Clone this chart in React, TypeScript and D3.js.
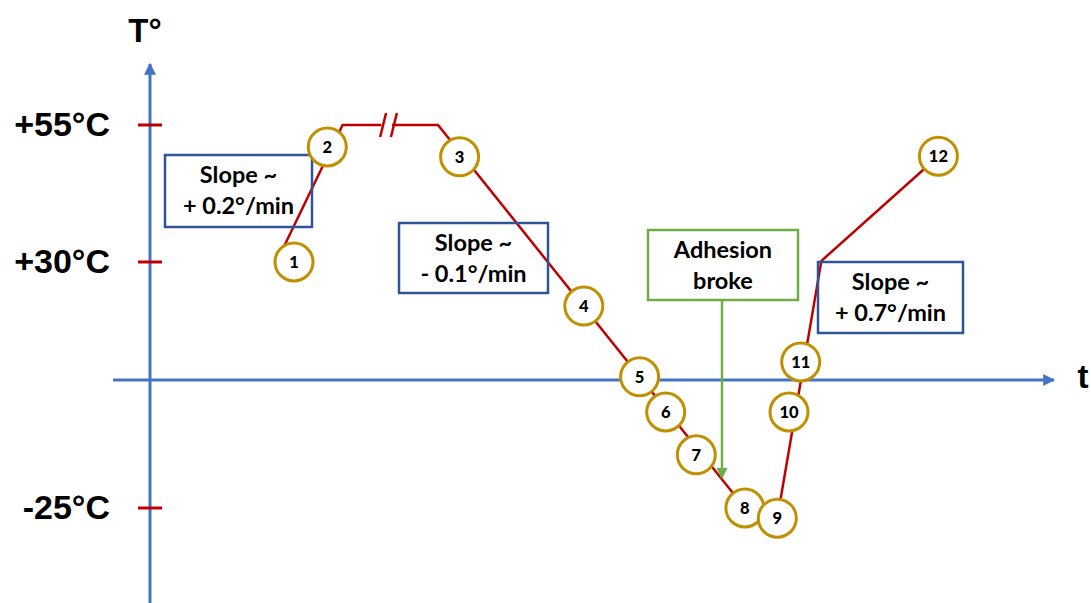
import React from "react";
import * as d3 from "d3";

// ---- Data ----
const tickValues = [55, 30, -25];
const tickLabels = ["+55°C", "+30°C", "-25°C"];

// path segments (time units, °C) — broken on the plateau
const segA_t = [14.7, 21.4, 25.7];
const segA_T = [32.2, 55, 55];
const segB_t = [26.9, 32.0, 66.1, 69.7, 74.6, 87.6];
const segB_T = [55, 55, -25, -27, 30.2, 49.3];

// numbered measurement points
const pointIds = ["1", "2", "3", "4", "5", "6", "7", "8", "9", "10", "11", "12"];
const pointT = [16.0, 19.7, 34.4, 48.2, 54.4, 57.3, 60.7, 66.1, 69.7, 71.0, 72.3, 87.6];
const pointV = [30, 51.0, 49.2, 18.8, 0.8, -6.25, -14.6, -25, -27, -6.25, 4.6, 49.3];

// annotation boxes
const boxLines = [
  ["Slope ~", "+ 0.2°/min"],
  ["Slope ~", "- 0.1°/min"],
  ["Adhesion", "broke"],
  ["Slope ~", "+ 0.7°/min"],
];

const W = 1091;
const H = 603;

export default function App() {
  const x = d3.scaleLinear().domain([0, 100]).range([150, 1050]);
  const y = d3.scaleLinear().domain([-25, 0, 30, 55]).range([508, 380, 262, 125]);
  const line = d3
    .line<[number, number]>()
    .x((d) => x(d[0]))
    .y((d) => y(d[1]));
  const segA = segA_t.map((t, i) => [t, segA_T[i]] as [number, number]);
  const segB = segB_t.map((t, i) => [t, segB_T[i]] as [number, number]);

  const blue = "#4472c4";
  const red = "#c00000";
  const gold = "#bf9000";
  const boxBlue = "#2f5597";
  const green = "#70ad47";
  const boxFont = "Lato, 'Open Sans', sans-serif";

  const boxes = [
    { x: 165, y: 155, w: 147, h: 72, color: boxBlue },
    { x: 399, y: 223, w: 149, h: 70, color: boxBlue },
    { x: 648, y: 230, w: 150, h: 70, color: green },
    { x: 818, y: 262, w: 145, h: 71, color: boxBlue },
  ];

  const xAxisY = y(0);
  const yAxisX = x(0);
  const bx1 = x(25.9);
  const bx2 = x(27.1);
  const by = y(55);

  return (
    <svg width={W} height={H} style={{ position: "absolute", left: 0, top: 0, background: "#fff" }}>
      <defs>
        <marker id="arrBlue" viewBox="0 0 10 10" refX="9" refY="5" markerWidth="4" markerHeight="4" orient="auto">
          <path d="M0,0 L10,5 L0,10 z" fill={blue} />
        </marker>
        <marker id="arrGreen" viewBox="0 0 10 10" refX="9" refY="5" markerWidth="4.5" markerHeight="4.5" orient="auto">
          <path d="M0,0 L10,5 L0,10 z" fill={green} />
        </marker>
      </defs>
      {/* axes */}
      <line x1={yAxisX} y1={603} x2={yAxisX} y2={64} stroke={blue} strokeWidth={3} markerEnd="url(#arrBlue)" />
      <line x1={113} y1={xAxisY} x2={1054} y2={xAxisY} stroke={blue} strokeWidth={3} markerEnd="url(#arrBlue)" />
      <text x={145} y={42} textAnchor="middle" fontFamily="Arial, 'Liberation Sans', sans-serif" fontWeight="bold" fontSize={33} fill="#000">T°</text>
      <text x={1083} y={388} textAnchor="middle" fontFamily="Arial, 'Liberation Sans', sans-serif" fontWeight="bold" fontSize={33} fill="#000">t</text>
      {/* ticks */}
      {tickValues.map((v, i) => (
        <g key={i}>
          <line x1={yAxisX - 12} x2={yAxisX + 12} y1={y(v)} y2={y(v)} stroke={red} strokeWidth={3} />
          <text x={110} y={y(v) + 11} textAnchor="end" fontFamily="Arial, 'Liberation Sans', sans-serif" fontWeight="bold" fontSize={34} fill="#000">
            {tickLabels[i]}
          </text>
        </g>
      ))}
      {/* temperature path */}
      <path d={line(segA) || ""} fill="none" stroke={red} strokeWidth={2.5} />
      <path d={line(segB) || ""} fill="none" stroke={red} strokeWidth={2.5} />
      <line x1={bx1 + 3} y1={by - 12} x2={bx1 - 3} y2={by + 12} stroke={red} strokeWidth={2.5} />
      <line x1={bx2 + 3} y1={by - 12} x2={bx2 - 3} y2={by + 12} stroke={red} strokeWidth={2.5} />
      {/* boxes */}
      {boxes.map((b, i) => (
        <g key={i}>
          <rect x={b.x} y={b.y} width={b.w} height={b.h} fill={i === 2 ? "#fff" : "none"} stroke={b.color} strokeWidth={2.5} />
          {boxLines[i].map((s, j) => (
            <text key={j} x={b.x + b.w / 2} y={b.y + 28 + j * 31} textAnchor="middle" fontFamily={boxFont} fontWeight="bold" fontSize={23.5} fill="#000">
              {s}
            </text>
          ))}
        </g>
      ))}
      <line x1={722} y1={300} x2={722} y2={478} stroke={green} strokeWidth={2.5} markerEnd="url(#arrGreen)" />
      {/* points */}
      {pointIds.map((id, i) => (
        <g key={id} transform={`translate(${x(pointT[i])},${y(pointV[i])})`}>
          <circle r={19} fill="#fff" stroke={gold} strokeWidth={3} />
          <text y={6} textAnchor="middle" fontFamily={boxFont} fontWeight="900" fontSize={16.5} fill="#000">
            {id}
          </text>
        </g>
      ))}
    </svg>
  );
}
